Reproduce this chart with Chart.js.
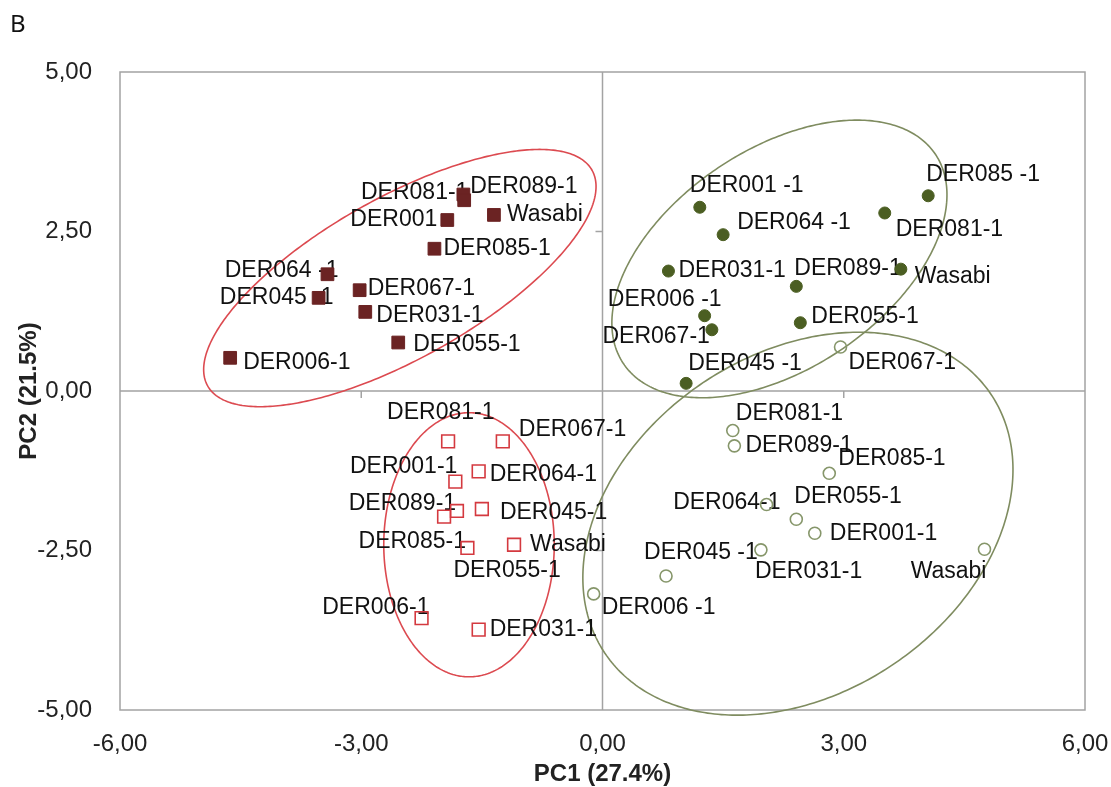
<!DOCTYPE html>
<html>
<head>
<meta charset="utf-8">
<title>PCA B</title>
<script src="https://cdn.jsdelivr.net/npm/chart.js@4.4.0/dist/chart.umd.min.js"></script>
<style>
  html, body { margin: 0; padding: 0; background: #fff; }
  #wrap { width: 1111px; height: 787px; }
</style>
</head>
<body>
<div id="wrap"><canvas id="pcaChart" width="1111" height="787"></canvas></div>
<script>
// Ejes
const xTickValues = [-6, -3, 0, 3, 6];
const xTickLabels = ['-6,00', '-3,00', '0,00', '3,00', '6,00'];
const yTickValues = [-5, -2.5, 0, 2.5, 5];
const yTickLabels = ['-5,00', '-2,50', '0,00', '2,50', '5,00'];

// Grupo 1: cuadrados rellenos
const redFilledNames = ['DER006-1', 'DER045 -1', 'DER064 -1', 'DER067-1', 'DER031-1', 'DER055-1', 'DER085-1', 'DER001', 'DER081-1', 'DER089-1', 'Wasabi'];
const redFilledX = [-4.63, -3.53, -3.42, -3.02, -2.95, -2.54, -2.09, -1.93, -1.73, -1.72, -1.35];
const redFilledY = [0.52, 1.46, 1.83, 1.58, 1.24, 0.76, 2.23, 2.68, 3.08, 2.99, 2.76];

// Grupo 2: círculos rellenos
const oliveFilledNames = ['DER001 -1', 'DER064 -1', 'DER031-1', 'DER089-1', 'DER006 -1', 'DER067-1', 'DER055-1', 'DER045 -1', 'DER081-1', 'DER085 -1', 'Wasabi'];
const oliveFilledX = [1.21, 1.50, 0.82, 2.41, 1.27, 1.36, 2.46, 1.04, 3.51, 4.05, 3.71];
const oliveFilledY = [2.88, 2.45, 1.88, 1.64, 1.18, 0.96, 1.07, 0.12, 2.79, 3.06, 1.91];

// Grupo 3: cuadrados vacíos
const redOpenNames = ['DER081-1', 'DER067-1', 'DER064-1', 'DER001-1', 'DER085-1', 'DER089-1', 'DER045-1', 'DER055-1', 'Wasabi', 'DER006-1', 'DER031-1'];
const redOpenX = [-1.92, -1.24, -1.54, -1.83, -1.81, -1.97, -1.50, -1.68, -1.10, -2.25, -1.54];
const redOpenY = [-0.79, -0.79, -1.26, -1.42, -1.88, -1.97, -1.85, -2.46, -2.41, -3.56, -3.74];

// Grupo 4: círculos vacíos
const oliveOpenNames = ['DER067-1', 'DER081-1', 'DER089-1', 'DER085-1', 'DER064-1', 'DER055-1', 'DER001-1', 'DER031-1', 'DER045 -1', 'Wasabi', 'DER006 -1'];
const oliveOpenX = [2.96, 1.62, 1.64, 2.82, 2.04, 2.41, 2.64, 1.97, 0.79, 4.75, -0.11];
const oliveOpenY = [0.69, -0.62, -0.86, -1.29, -1.78, -2.01, -2.23, -2.49, -2.90, -2.48, -3.18];

// Elipses (centro y semiejes en unidades de datos)
const ellipses = [
    { cx: -2.52, cy: 1.77, ux: 2.39, uy: 1.69, vx: 0.49, vy: -1.10, color: '#dc4a50' },
    { cx: -1.66, cy: -2.41, ux: 1.06, uy: 0, vx: 0, vy: 2.07, color: '#dc4a50' },
    { cx: 2.20, cy: 2.07, ux: 1.94, uy: 1.64, vx: 0.76, vy: -1.43, color: '#7f8c60' },
    { cx: 2.43, cy: -2.08, ux: 2.40, uy: 2.03, vx: 1.18, vy: -2.21, color: '#7f8c60' }
];

// Posición de las etiquetas: [dx, dy, alineación] respecto al punto, en píxeles
const labelPlacement = [
    [[13, 5, 'left'], [15, 0, 'right'], [11, -4, 'right'], [8, -2, 'left'], [11, 4, 'left'], [15, 2, 'left'],
     [9, 0, 'left'], [-10, 0, 'right'], [5, -2, 'right'], [6, -14, 'left'], [13, 0, 'left']],
    [[-10, -22, 'left'], [14, -12, 'left'], [10, 0, 'left'], [-2, -18, 'left'], [17, -16, 'right'], [-2, 7, 'right'],
     [11, -6, 'left'], [2, -20, 'left'], [11, 17, 'left'], [-2, -21, 'left'], [14, 8, 'left']],
    [[-61, -29, 'left'], [16, -12, 'left'], [11, 3, 'left'], [2, -15, 'right'], [9, 31, 'right'], [12, -13, 'right'],
     [18, 4, 'left'], [-14, 23, 'left'], [16, 0, 'left'], [8, -10, 'right'], [11, 0, 'left']],
    [[8, 16, 'left'], [3, -17, 'left'], [11, 0, 'left'], [9, -15, 'left'], [14, -2, 'right'], [-2, -23, 'left'],
     [15, 0, 'left'], [-6, 22, 'left'], [-22, -23, 'left'], [2, 22, 'right'], [8, 14, 'left']]
];

function toPoints(xs, ys) {
    return xs.map((v, i) => ({ x: v, y: ys[i] }));
}

const groupNames = [redFilledNames, oliveFilledNames, redOpenNames, oliveOpenNames];
const FONT = '"Liberation Sans", Arial, sans-serif';

// Plugin para marco, ejes en cero, elipses y etiquetas
const decorPlugin = {
    id: 'decor',
    beforeDatasetsDraw(chart) {
        const { ctx, chartArea: a, scales: { x, y } } = chart;
        ctx.save();
        ctx.strokeStyle = '#a3a3a3';
        ctx.lineWidth = 1.5;
        ctx.strokeRect(a.left, a.top, a.right - a.left, a.bottom - a.top);

        const x0 = x.getPixelForValue(0);
        const y0 = y.getPixelForValue(0);
        ctx.beginPath();
        ctx.moveTo(a.left, y0); ctx.lineTo(a.right, y0);
        ctx.moveTo(x0, a.top); ctx.lineTo(x0, a.bottom);
        xTickValues.forEach(v => {
            if (v === 0 || v === xTickValues[0] || v === xTickValues[xTickValues.length - 1]) return;
            const px = x.getPixelForValue(v);
            ctx.moveTo(px, y0); ctx.lineTo(px, y0 + 7);
        });
        yTickValues.forEach(v => {
            if (v === 0 || v === yTickValues[0] || v === yTickValues[yTickValues.length - 1]) return;
            const py = y.getPixelForValue(v);
            ctx.moveTo(x0, py); ctx.lineTo(x0 - 7, py);
        });
        ctx.stroke();

        // elipses
        ctx.lineWidth = 1.6;
        ellipses.forEach(e => {
            ctx.strokeStyle = e.color;
            ctx.beginPath();
            for (let k = 0; k <= 360; k++) {
                const t = k * Math.PI / 180;
                const px = x.getPixelForValue(e.cx + e.ux * Math.cos(t) + e.vx * Math.sin(t));
                const py = y.getPixelForValue(e.cy + e.uy * Math.cos(t) + e.vy * Math.sin(t));
                if (k === 0) ctx.moveTo(px, py); else ctx.lineTo(px, py);
            }
            ctx.closePath();
            ctx.stroke();
        });

        // etiquetas
        ctx.font = '23px ' + FONT;
        ctx.fillStyle = '#111';
        ctx.textBaseline = 'middle';
        chart.data.datasets.forEach((ds, di) => {
            const meta = chart.getDatasetMeta(di);
            meta.data.forEach((pt, i) => {
                const p = labelPlacement[di][i];
                ctx.textAlign = p[2];
                ctx.fillText(groupNames[di][i], pt.x + p[0], pt.y + p[1]);
            });
        });
        ctx.restore();
    },
    afterDraw(chart) {
        const ctx = chart.ctx;
        ctx.save();
        ctx.font = '24px "Noto Sans", sans-serif';
        ctx.fillStyle = '#111';
        ctx.textBaseline = 'middle';
        ctx.textAlign = 'left';
        ctx.fillText('B', 10, 25);
        ctx.restore();
    }
};

const ctx = document.getElementById('pcaChart').getContext('2d');
const pcaChart = new Chart(ctx, {
    type: 'scatter',
    data: {
        datasets: [{
            data: toPoints(redFilledX, redFilledY),
            pointStyle: 'rect',
            pointRadius: 9,
            backgroundColor: '#6b2323',
            borderColor: '#6b2323',
            borderWidth: 1
        }, {
            data: toPoints(oliveFilledX, oliveFilledY),
            pointStyle: 'circle',
            pointRadius: 6,
            backgroundColor: '#4b5e22',
            borderColor: '#4b5e22',
            borderWidth: 1
        }, {
            data: toPoints(redOpenX, redOpenY),
            pointStyle: 'rect',
            pointRadius: 9,
            backgroundColor: 'rgba(255,255,255,0)',
            borderColor: '#d4393f',
            borderWidth: 1.6
        }, {
            data: toPoints(oliveOpenX, oliveOpenY),
            pointStyle: 'circle',
            pointRadius: 6,
            backgroundColor: 'rgba(255,255,255,0)',
            borderColor: '#86966a',
            borderWidth: 1.6
        }]
    },
    options: {
        responsive: false,
        animation: false,
        devicePixelRatio: 1,
        layout: { padding: { left: 0, top: 72, right: 26, bottom: 0 } },
        plugins: {
            legend: { display: false },
            tooltip: { enabled: false }
        },
        scales: {
            x: {
                type: 'linear',
                min: -6,
                max: 6,
                grid: { display: false },
                border: { display: false },
                afterBuildTicks: function(scale) {
                    scale.ticks = xTickValues.map(v => ({ value: v }));
                },
                afterFit: function(scale) {
                    scale.height = 77;
                    scale.paddingLeft = 0;
                    scale.paddingRight = 0;
                },
                ticks: {
                    padding: 12,
                    color: '#222',
                    font: { family: FONT, size: 24 },
                    maxRotation: 0,
                    callback: function(value, index) { return xTickLabels[index]; }
                },
                title: {
                    display: true,
                    text: 'PC1 (27.4%)',
                    color: '#222',
                    font: { family: FONT, size: 24, weight: 'bold' },
                    padding: { top: 0, bottom: -2 }
                }
            },
            y: {
                type: 'linear',
                min: -5,
                max: 5,
                grid: { display: false },
                border: { display: false },
                afterBuildTicks: function(scale) {
                    scale.ticks = yTickValues.map(v => ({ value: v }));
                },
                afterFit: function(scale) {
                    scale.width = 120;
                    scale.paddingTop = 0;
                    scale.paddingBottom = 0;
                },
                ticks: {
                    padding: 20,
                    color: '#222',
                    font: { family: FONT, size: 24 },
                    callback: function(value, index) { return yTickLabels[index]; }
                },
                title: {
                    display: true,
                    text: 'PC2 (21.5%)',
                    color: '#222',
                    font: { family: FONT, size: 24, weight: 'bold' },
                    padding: { top: 15, bottom: 0 }
                }
            }
        }
    },
    plugins: [decorPlugin]
});
</script>
</body>
</html>
